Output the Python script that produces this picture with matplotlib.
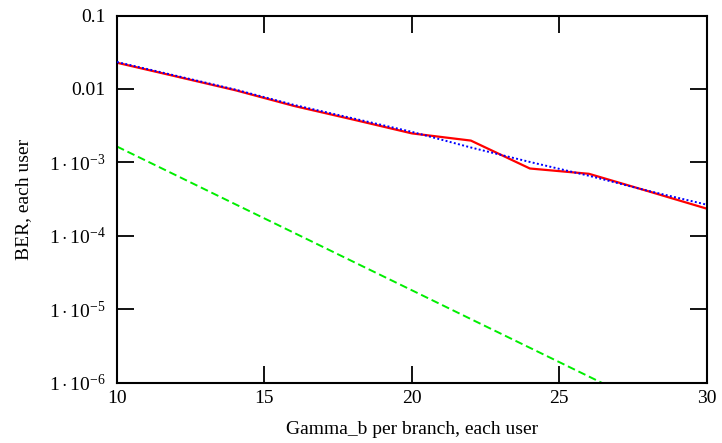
import numpy as np
import matplotlib
matplotlib.use("Agg")
import matplotlib.pyplot as plt
from matplotlib.ticker import FixedLocator, FixedFormatter

plt.rcParams['font.family'] = ['Liberation Serif', 'DejaVu Serif']
plt.rcParams['mathtext.fontset'] = 'custom'
plt.rcParams['mathtext.rm'] = 'Liberation Serif'
plt.rcParams['mathtext.it'] = 'Liberation Serif:italic'

# Gamma_b per branch (dB)
gamma_b = [10, 12, 14, 16, 18, 20, 22, 24, 26, 28, 30]

# simulated BER (red solid)
ber_sim = [10**-1.643, 10**-1.829, 10**-2.016, 10**-2.231, 10**-2.416, 10**-2.605,
           10**-2.703, 10**-3.083, 10**-3.155, 10**-3.391, 10**-3.630]
# analytical BER (blue dotted)
ber_theory = [10**-1.633, 10**-1.820, 10**-2.007, 10**-2.217, 10**-2.400, 10**-2.584,
              10**-2.797, 10**-2.994, 10**-3.182, 10**-3.386, 10**-3.576]
# reference BER (green dashed)
ber_ref = [10**-2.784, 10**-3.175, 10**-3.567, 10**-3.958, 10**-4.350, 10**-4.741,
           10**-5.133, 10**-5.524, 10**-5.915, 10**-6.307, 10**-6.698]

y_ticks = [1e-6, 1e-5, 1e-4, 1e-3, 1e-2, 1e-1]
y_tick_labels = [r'$1\cdot10^{-6}$', r'$1\cdot10^{-5}$', r'$1\cdot10^{-4}$',
                 r'$1\cdot10^{-3}$', '0.01', '0.1']
x_ticks = [10, 15, 20, 25, 30]

fig = plt.figure(figsize=(7.22, 4.43), dpi=100)
ax = fig.add_axes([0.162, 0.136, 0.817, 0.829])

ax.plot(gamma_b, ber_theory, color='#0000ff', linestyle=(0, (1, 1.2)), linewidth=1.4, zorder=3)
ax.plot(gamma_b, ber_sim, color='#ff0000', linestyle='-', linewidth=1.6, zorder=2)
ax.plot(gamma_b, ber_ref, color='#00ee00', linestyle=(0, (4, 2)), linewidth=1.4, zorder=2)

ax.set_yscale('log')
ax.set_xlim(10, 30)
ax.set_ylim(1e-6, 0.1)

ax.yaxis.set_major_locator(FixedLocator(y_ticks))
ax.yaxis.set_major_formatter(FixedFormatter(y_tick_labels))
ax.yaxis.set_minor_locator(FixedLocator([]))
ax.set_xticks(x_ticks)

ax.tick_params(axis='both', which='major', direction='in', length=12, width=1.3,
               top=True, right=True, labelsize=14, colors='black')
ax.tick_params(axis='x', pad=5)
ax.tick_params(axis='y', pad=8)

for s in ax.spines.values():
    s.set_linewidth(1.5)

ax.set_xlabel('Gamma_b per branch, each user', fontsize=14, labelpad=10)
ax.set_ylabel('BER, each user', fontsize=14, labelpad=12)

fig.savefig('out.png', dpi=100)
